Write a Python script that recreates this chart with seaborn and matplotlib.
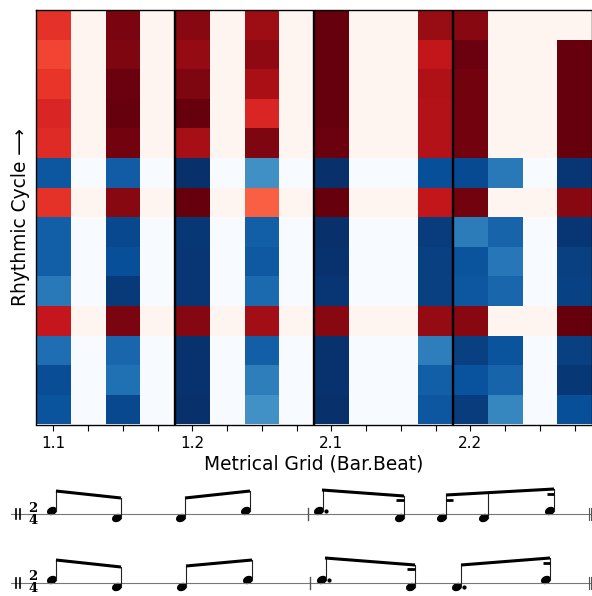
import numpy as np
import pandas as pd
import matplotlib
matplotlib.use('Agg')
import matplotlib.pyplot as plt
from matplotlib.patches import Ellipse
import seaborn as sns

# onset strengths per row, top to bottom, 16 grid columns
# rows in Reds
red_rows = [0, 1, 2, 3, 4, 6, 10]
red_c0 = [0.66, 0.60, 0.65, 0.70, 0.68, 0.66, 0.77]
red_c2 = [0.96, 0.95, 0.99, 1.00, 0.98, 0.93, 0.96]
red_c4 = [0.93, 0.91, 0.95, 1.00, 0.87, 1.00, 0.94]
red_c6 = [0.89, 0.92, 0.86, 0.70, 0.95, 0.53, 0.88]
red_c8 = [1.00, 1.00, 1.00, 1.00, 0.99, 1.00, 0.93]
red_c11 = [0.90, 0.78, 0.84, 0.83, 0.83, 0.78, 0.91]
red_c12 = [0.93, 0.99, 0.98, 0.98, 0.98, 0.98, 0.93]
red_c15 = [0.00, 1.00, 1.00, 1.00, 1.00, 0.93, 1.00]

# rows in Blues
blue_rows = [5, 7, 8, 9, 11, 12, 13]
blue_c0 = [0.85, 0.82, 0.82, 0.72, 0.76, 0.89, 0.86]
blue_c2 = [0.83, 0.91, 0.88, 0.96, 0.79, 0.75, 0.91]
blue_c4 = [1.00, 0.97, 0.98, 0.98, 0.99, 0.99, 1.00]
blue_c6 = [0.63, 0.82, 0.84, 0.78, 0.82, 0.70, 0.625]
blue_c8 = [1.00, 1.00, 0.99, 0.98, 0.99, 0.99, 1.00]
blue_c11 = [0.88, 0.95, 0.94, 0.94, 0.70, 0.82, 0.85]
blue_c12 = [0.90, 0.71, 0.86, 0.85, 0.94, 0.87, 0.95]
blue_c13 = [0.72, 0.80, 0.73, 0.79, 0.86, 0.80, 0.67]
blue_c15 = [0.98, 0.98, 0.94, 0.93, 0.94, 0.97, 0.88]

tick_labels = ['1.1', '', '', '', '1.2', '', '', '',
               '2.1', '', '', '', '2.2', '', '', '']
beat_lines = [4, 8, 12]

# notation in pixels of the figure
staff_y = [514, 583]
heads = [(52, 511), (117, 518), (181, 518), (246, 511), (319, 511), (400, 518),
         (442, 518), (484, 518), (550, 511),
         (52, 580), (117, 587), (182, 587), (248, 580), (322, 580), (411, 587),
         (457, 587), (546, 580)]
stems = [(56, 491, 511), (120.5, 498, 518), (185, 498, 518), (249.5, 491, 511),
         (322.5, 490, 511), (404, 496, 518), (446, 495, 518), (488, 492, 518),
         (554, 489, 511),
         (56, 560, 580), (121, 567, 587), (186, 566, 587), (251.5, 560, 580),
         (325.5, 558, 580), (415, 565, 587), (461, 565, 587), (550, 558, 580)]
beams = [(56, 491, 121, 498), (185, 498, 250, 491), (322, 490, 404, 496),
         (446, 495, 554, 489),
         (56, 560, 121, 567), (186, 566, 252, 560), (325, 558, 415, 565),
         (461, 565, 550, 558)]
short_beams = [(396, 500, 404, 500), (446, 500, 453, 500), (547, 494, 554, 494),
               (407, 569, 415, 569), (543, 563, 550, 563)]
dots = [(326.5, 511.5), (329.5, 580.5), (464.5, 587.5)]
bar_lines = [(307.5, 514), (310, 583)]

plt.rcParams['font.family'] = 'DejaVu Sans'

n_rows, n_cols = 14, 16
red_cols = {0: red_c0, 2: red_c2, 4: red_c4, 6: red_c6, 8: red_c8,
            11: red_c11, 12: red_c12, 15: red_c15}
blue_cols = {0: blue_c0, 2: blue_c2, 4: blue_c4, 6: blue_c6, 8: blue_c8,
             11: blue_c11, 12: blue_c12, 13: blue_c13, 15: blue_c15}

grid = np.zeros((n_rows, n_cols))
for col, vals in red_cols.items():
    grid[red_rows, col] = vals
for col, vals in blue_cols.items():
    grid[blue_rows, col] = vals
df = pd.DataFrame(grid)

is_red = np.zeros(n_rows, dtype=bool)
is_red[red_rows] = True
red_mask = np.tile(~is_red[:, None], (1, n_cols))

fig = plt.figure(figsize=(5.92, 5.96), dpi=100)
ax = fig.add_axes([36 / 592, 1 - 424.5 / 596, 556 / 592, 414.5 / 596])

sns.heatmap(df, mask=red_mask, cmap='Reds', vmin=0, vmax=1, cbar=False, ax=ax)
sns.heatmap(df, mask=~red_mask, cmap='Blues', vmin=0, vmax=1, cbar=False, ax=ax)

for b in beat_lines:
    ax.axvline(b, color='black', lw=1.7)

for spine in ax.spines.values():
    spine.set_visible(True)
    spine.set_color('black')
    spine.set_linewidth(1.0)

ax.set_xticks(np.arange(n_cols) + 0.5)
ax.set_xticklabels(tick_labels, rotation=0, fontsize=11)
ax.set_yticks([])
ax.tick_params(axis='x', length=4, width=0.8, pad=4)
ax.set_xlabel('Metrical Grid (Bar.Beat)', fontsize=13.4, labelpad=2.5)
ax.set_ylabel('Rhythmic Cycle \u27f6', fontsize=13.4, labelpad=4.5)

# score underneath, overlay axes in pixel units
score = fig.add_axes([0, 0, 1, 1], facecolor='none')
score.set_xlim(0, 592)
score.set_ylim(596, 0)
score.axis('off')

for y in staff_y:
    score.plot([11, 592], [y, y], color='#777777', lw=0.8)
    # opening repeat strokes
    score.plot([16, 16], [y - 5, y + 5], color='black', lw=1.2)
    score.plot([20, 20], [y - 5, y + 5], color='black', lw=1.2)
    # closing bar
    score.plot([589, 589], [y - 6, y + 6], color='#555555', lw=0.8)
    score.plot([591, 591], [y - 6, y + 6], color='#555555', lw=0.8)
    score.text(33, y - 2.5, '2', family='DejaVu Serif', weight='bold', fontsize=9.5,
               ha='center', va='baseline')
    score.text(33, y + 9.5, '4', family='DejaVu Serif', weight='bold', fontsize=9.5,
               ha='center', va='baseline')

for x, y in bar_lines:
    score.plot([x, x], [y - 6, y + 6], color='#555555', lw=1.0)

for x, y in heads:
    score.add_patch(Ellipse((x, y), 9, 6.5, angle=-25, color='black'))
for x, y0, y1 in stems:
    score.plot([x, x], [y0, y1], color='#222222', lw=0.8)
for x0, y0, x1, y1 in beams:
    score.plot([x0, x1], [y0, y1], color='black', lw=2.2, solid_capstyle='butt')
for x0, y0, x1, y1 in short_beams:
    score.plot([x0, x1], [y0, y1], color='black', lw=2.0, solid_capstyle='butt')
for x, y in dots:
    score.add_patch(Ellipse((x, y), 2.8, 2.8, color='black'))

fig.savefig('out.png', dpi=100)
